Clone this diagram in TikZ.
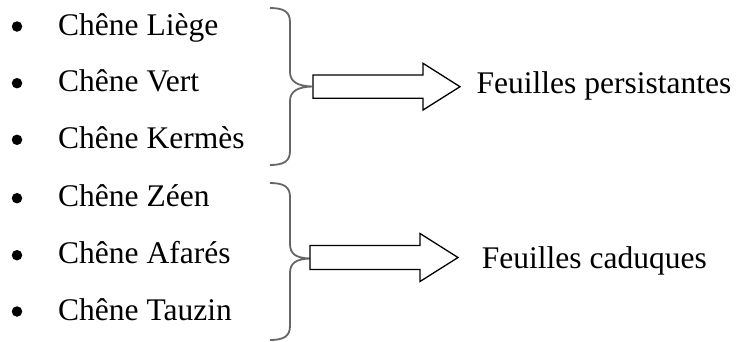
\documentclass[tikz,border=0pt]{standalone}
\usepackage{fontspec}
\setmainfont{Liberation Serif}
\begin{document}
\begin{tikzpicture}[x=1pt,y=-1pt,
  item/.style={anchor=base west,inner sep=0pt,font=\fontsize{31.5}{36}\selectfont},
  bul/.style={circle,fill=black,inner sep=0pt,minimum size=10.5pt},
  brace/.style={draw=black!60,line width=1.8pt},
  blockarrow/.style={draw=black,line width=1.3pt,fill=white,line join=miter}]
\useasboundingbox (0,0) rectangle (736,341);
% items
\foreach \n/\t/\y in {a/Chêne Liège/35, b/Chêne Vert/91.7, c/Chêne Kermès/148.3,
                      d/Chêne Zéen/206.7, e/Chêne Afarés/263.7, f/Chêne Tauzin/320}{
  \node[item] (\n) at (58,\y) {\t};
  \node[bul] (\n b) at (17,\y-8.5) {};
}
% braces
\draw[brace] (270,8) .. controls (284,8) and (290,12) .. (290,22)
  -- (290,72) .. controls (290,82) and (298,86) .. (312,86.5)
  .. controls (298,87) and (290,91) .. (290,101)
  -- (290,151) .. controls (290,161) and (284,165) .. (270,165);
\draw[brace] (270,183) .. controls (284,183) and (290,187) .. (290,197)
  -- (290,244) .. controls (290,254) and (296,258) .. (310,258.5)
  .. controls (296,259) and (290,263) .. (290,273)
  -- (290,326) .. controls (290,336) and (284,340) .. (270,340);
% block arrows
\draw[blockarrow] (313,75) -- (423,75) -- (423,63.3) -- (460,86.7) -- (423,110)
  -- (423,98.3) -- (313,98.3) -- cycle;
\draw[blockarrow] (310,245.5) -- (420,245.5) -- (420,233.5) -- (458,257.5) -- (420,281.5)
  -- (420,269.5) -- (310,269.5) -- cycle;
% results
\node[item] (p) at (476.5,93.3) {Feuilles persistantes};
\node[item] (q) at (481.7,268) {Feuilles caduques};
\end{tikzpicture}
\end{document}
